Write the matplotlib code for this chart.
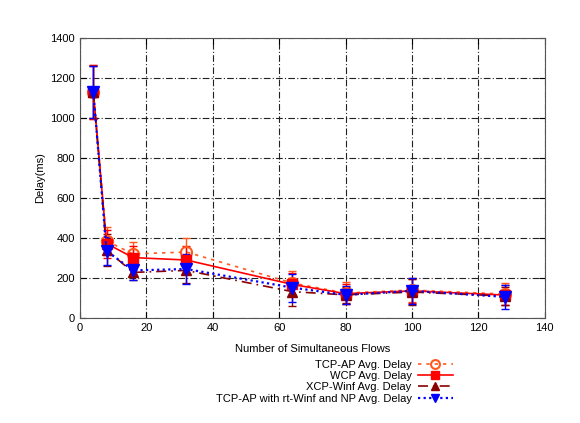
# Delay vs number of flows, gnuplot-like look
from matplotlib import pyplot as plt
import numpy as np

plt.rcParams['font.family'] = ['Liberation Sans', 'DejaVu Sans']

flows = [4, 8, 16, 32, 64, 80, 100, 128]

tcpap = [1130, 385, 320, 330, 175, 125, 140, 120]
tcpap_err = [135, 70, 60, 70, 60, 55, 60, 55]

wcp = [1130, 372, 302, 290, 168, 122, 136, 115]
wcp_err = [135, 70, 60, 70, 55, 50, 60, 50]

xcp = [1130, 340, 228, 238, 132, 116, 130, 110]
xcp_err = [130, 80, 40, 65, 70, 40, 65, 45]

rtwinf = [1130, 335, 238, 245, 152, 116, 136, 106]
rtwinf_err = [130, 70, 50, 75, 70, 45, 65, 60]

labels = ["TCP-AP Avg. Delay", "WCP Avg. Delay", "XCP-Winf Avg. Delay",
          "TCP-AP with rt-Winf and NP Avg. Delay"]

fig = plt.figure(figsize=(5.8, 4.23), dpi=100)
ax = fig.add_axes([0.138, 0.248, 0.801, 0.663])

# error bars first, lines + markers on top (legend shows only those)
ax.errorbar(flows, tcpap, yerr=tcpap_err, fmt='none', ecolor='#ff5a1e', capsize=3, elinewidth=1)
ax.errorbar(flows, wcp, yerr=wcp_err, fmt='none', ecolor='#ff0000', capsize=3, elinewidth=1)
ax.errorbar(flows, xcp, yerr=xcp_err, fmt='none', ecolor='#8b0000', capsize=3, elinewidth=1)
ax.errorbar(flows, rtwinf, yerr=rtwinf_err, fmt='none', ecolor='#0000ff', capsize=3, elinewidth=1)

ax.plot(flows, tcpap, color='#ff5a1e', ls=(0, (2, 3)), lw=1.2,
        marker='o', ms=8, mfc='none', mew=1.5, label=labels[0])
ax.plot(flows, wcp, color='#ff0000', ls='-', lw=1.2,
        marker='s', ms=7, label=labels[1])
ax.plot(flows, xcp, color='#8b0000', ls=(0, (6, 3, 1, 3)), lw=1.2,
        marker='^', ms=7, label=labels[2])
ax.plot(flows, rtwinf, color='#0000ff', ls=(0, (1, 1.5)), lw=1.6,
        marker='v', ms=8, label=labels[3])

ax.set_xlim(0, 140)
ax.set_ylim(0, 1400)
ax.set_xticks(np.arange(0, 141, 20))
ax.set_yticks(np.arange(0, 1401, 200))
ax.grid(True, color='#222222', ls=(0, (6, 2, 1, 2)), lw=0.8)
ax.tick_params(direction='in', labelsize=8, length=4, top=True, right=True)
for s in ax.spines.values():
    s.set_color('#555555')

ax.set_xlabel("Number of Simultaneous Flows", fontsize=8, labelpad=8)
ax.set_ylabel("Delay(ms)", fontsize=8)

leg = fig.legend(loc='upper right', bbox_to_anchor=(0.79, 0.163), frameon=False,
                 markerfirst=False, fontsize=8, labelspacing=0.12, handlelength=3.1,
                 borderpad=0, handletextpad=0.6, markerscale=0.8)
for t in leg.get_texts():
    t.set_ha('right')

fig.savefig('out.png', dpi=100)
